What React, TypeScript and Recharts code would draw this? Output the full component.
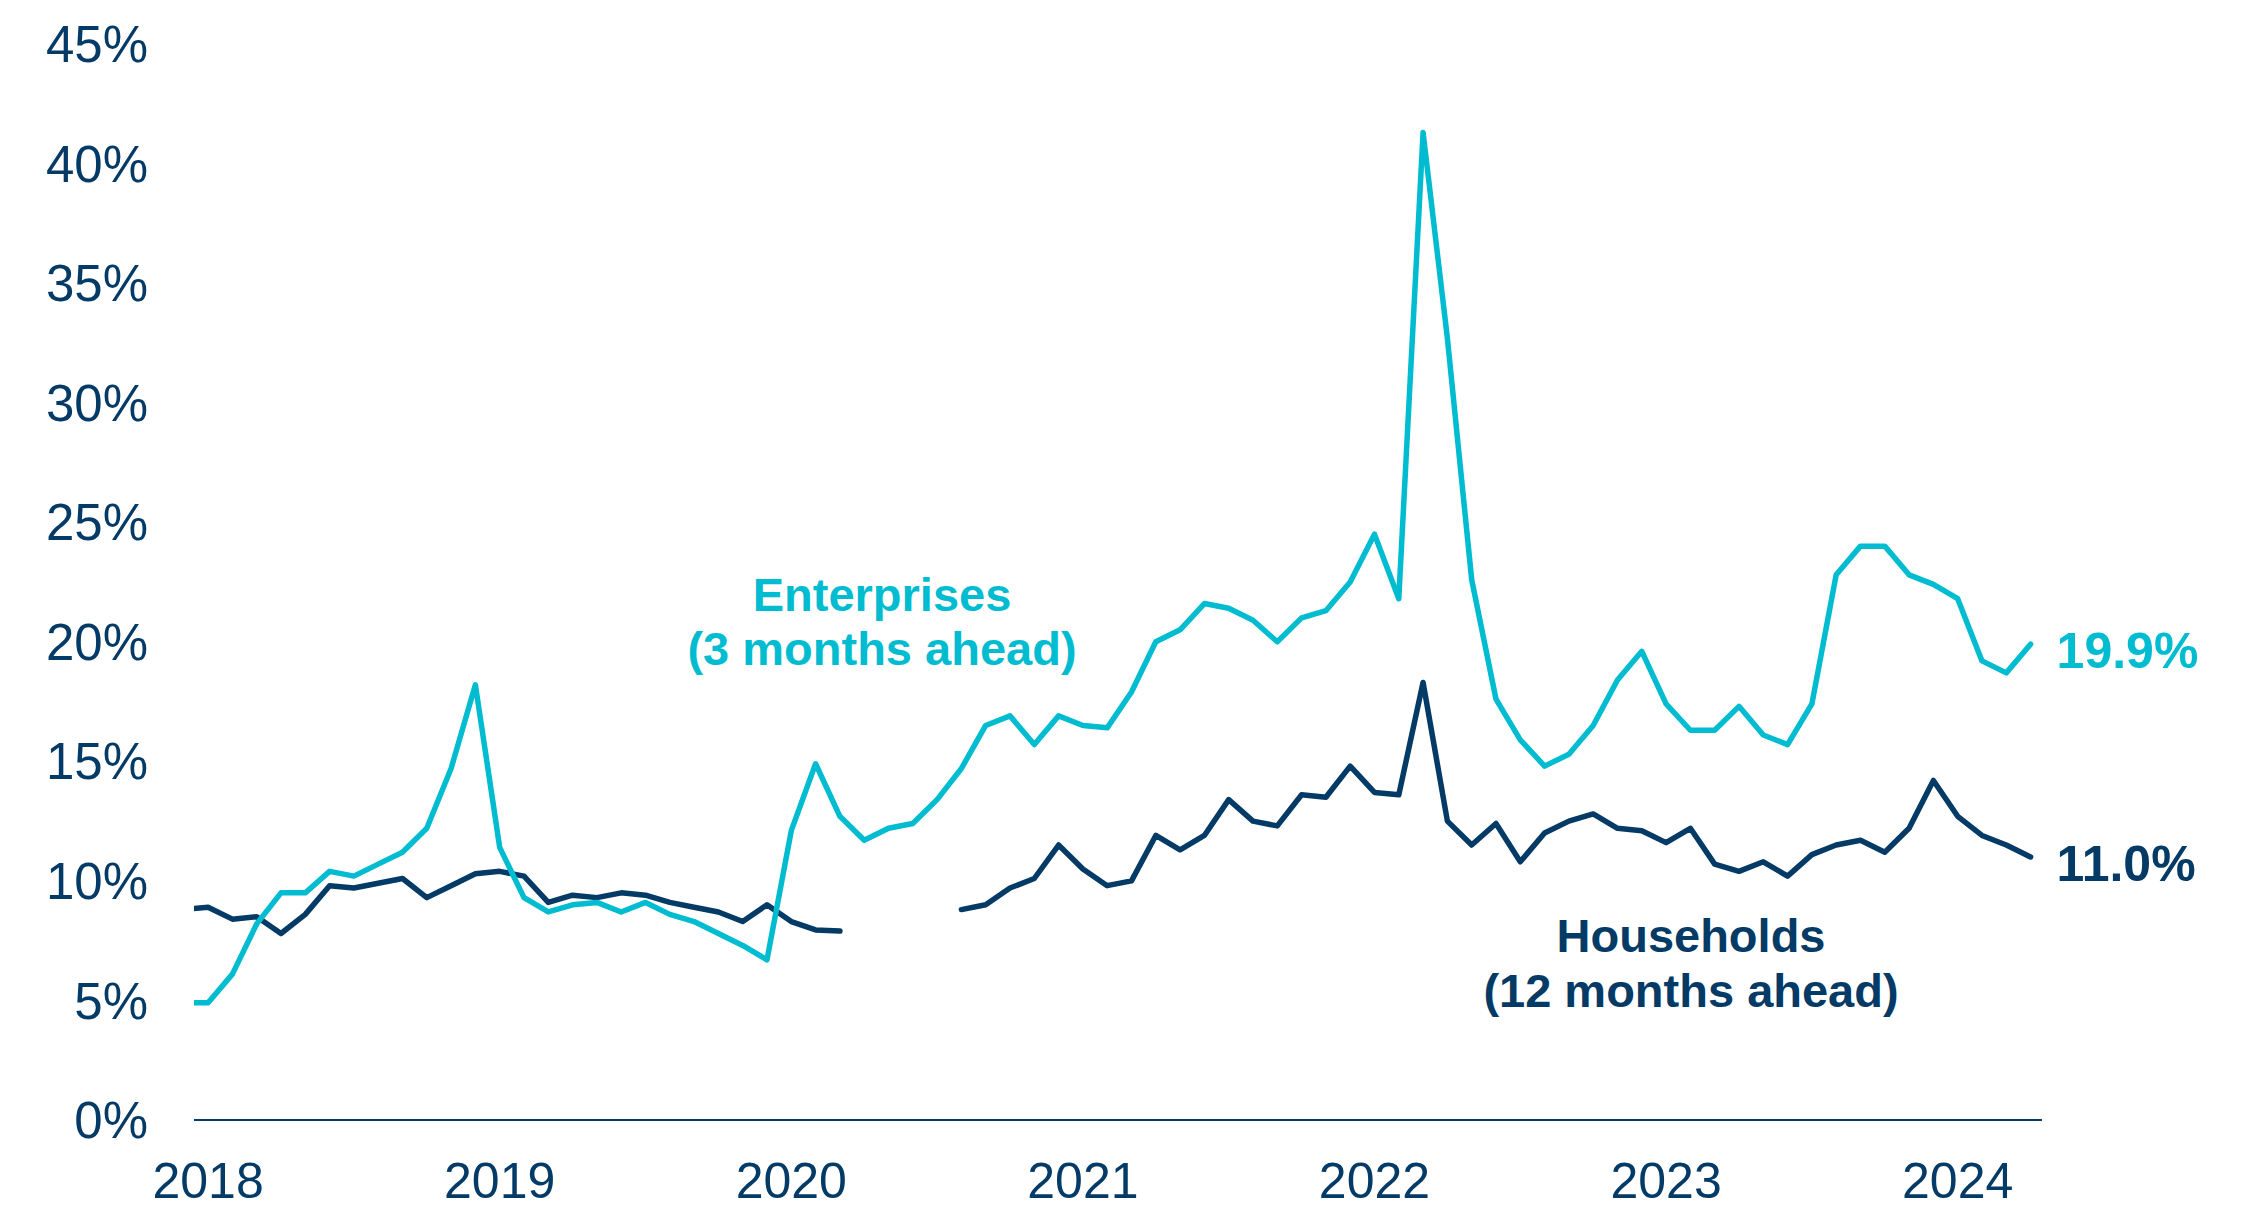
import { LineChart, Line, XAxis, YAxis } from "recharts"

const NAVY = "#043a66"
const CYAN = "#00bcd0"
const FONT = '"Liberation Sans", Arial, sans-serif'

// month index 0 = Jan 2018, first value is Dec 2017 (clipped at the axis start)
const firstMonthIndex = -1

const enterprises = [
  4.9, 4.9, 6.1, 8.2, 9.5, 9.5, 10.4, 10.2, 10.7, 11.2, 12.2, 14.7, 18.2,
  11.4, 9.3, 8.7, 9.0, 9.1, 8.7, 9.1, 8.6, 8.3, 7.8, 7.3, 6.7,
  12.1, 14.9, 12.7, 11.7, 12.2, 12.4, 13.4, 14.7, 16.5, 16.9, 15.7, 16.9,
  16.5, 16.4, 17.9, 20.0, 20.5, 21.6, 21.4, 20.9, 20.0, 21.0, 21.3, 22.5,
  24.5, 21.8, 41.3, 32.7, 22.6, 17.6, 15.9, 14.8, 15.3, 16.5, 18.4, 19.6,
  17.4, 16.3, 16.3, 17.3, 16.1, 15.7, 17.4, 22.8, 24.0, 24.0, 22.8, 22.4,
  21.8, 19.2, 18.7, 19.9,
]

const households: (number | null)[] = [
  8.8, 8.9, 8.4, 8.5, 7.8, 8.6, 9.8, 9.7, 9.9, 10.1, 9.3, 9.8, 10.3,
  10.4, 10.2, 9.1, 9.4, 9.3, 9.5, 9.4, 9.1, 8.9, 8.7, 8.3, 9.0,
  8.3, 7.95, 7.9, null, null, null, null, 8.8, 9.0, 9.7, 10.1, 11.5,
  10.5, 9.8, 10.0, 11.9, 11.3, 11.9, 13.4, 12.5, 12.3, 13.6, 13.5, 14.8,
  13.7, 13.6, 18.3, 12.5, 11.5, 12.4, 10.8, 12.0, 12.5, 12.8, 12.2, 12.1,
  11.6, 12.2, 10.7, 10.4, 10.8, 10.2, 11.1, 11.5, 11.7, 11.2, 12.2, 14.2,
  12.7, 11.9, 11.5, 11.0,
]

const yearLabels = ["2018", "2019", "2020", "2021", "2022", "2023", "2024"]
const yTicks = [0, 5, 10, 15, 20, 25, 30, 35, 40, 45]

const data = enterprises.map((e, i) => ({
  m: firstMonthIndex + i,
  enterprises: e,
  households: households[i],
}))
const lastIndex = data.length - 1

const endLabel = (color: string) => (props: any) => {
  if (props.index !== lastIndex) return null
  return (
    <text
      x={props.x + 26}
      y={props.y + 24}
      fill={color}
      fontFamily={FONT}
      fontSize={50}
      fontWeight="bold"
    >
      {Number(props.value).toFixed(1)}%
    </text>
  )
}

export default function App() {
  const annoStyle = { fontFamily: FONT, fontSize: 47, fontWeight: "bold" as const }
  return (
    <div style={{ position: "absolute", left: 0, top: 0, width: 2263, height: 1208, background: "#fff" }}>
      <LineChart
        width={2263}
        height={1208}
        data={data}
        margin={{ top: 44, right: 221, bottom: 0, left: 0 }}
      >
        <XAxis
          dataKey="m"
          type="number"
          domain={[-0.58, 75.47]}
          allowDataOverflow
          ticks={[0, 12, 24, 36, 48, 60, 72]}
          tickFormatter={(v: number) => yearLabels[v / 12]}
          height={88}
          axisLine={{ stroke: NAVY, strokeWidth: 2 }}
          tickLine={false}
          tickSize={0}
          tickMargin={42}
          tick={{ fill: NAVY, fontSize: 50, fontFamily: FONT }}
        />
        <YAxis
          domain={[0, 45]}
          ticks={yTicks}
          tickFormatter={(v: number) => `${v}%`}
          width={194}
          axisLine={false}
          tickLine={false}
          tickSize={0}
          tickMargin={46}
          tick={{ fill: NAVY, fontSize: 51, fontFamily: FONT }}
        />
        <Line
          type="linear"
          dataKey="households"
          stroke={NAVY}
          strokeWidth={5.5}
          strokeLinecap="round"
          strokeLinejoin="round"
          dot={false}
          connectNulls={false}
          isAnimationActive={false}
          label={endLabel(NAVY)}
        />
        <Line
          type="linear"
          dataKey="enterprises"
          stroke={CYAN}
          strokeWidth={5.5}
          strokeLinecap="round"
          strokeLinejoin="round"
          dot={false}
          isAnimationActive={false}
          label={endLabel(CYAN)}
        />
      </LineChart>
      <svg
        width={2263}
        height={1208}
        style={{ position: "absolute", left: 0, top: 0, pointerEvents: "none" }}
      >
        <text x={882} y={611} textAnchor="middle" fill={CYAN} {...annoStyle}>
          Enterprises
        </text>
        <text x={882} y={665} textAnchor="middle" fill={CYAN} {...annoStyle}>
          (3 months ahead)
        </text>
        <text x={1691} y={952} textAnchor="middle" fill={NAVY} {...annoStyle}>
          Households
        </text>
        <text x={1691} y={1007} textAnchor="middle" fill={NAVY} {...annoStyle}>
          (12 months ahead)
        </text>
      </svg>
    </div>
  )
}
